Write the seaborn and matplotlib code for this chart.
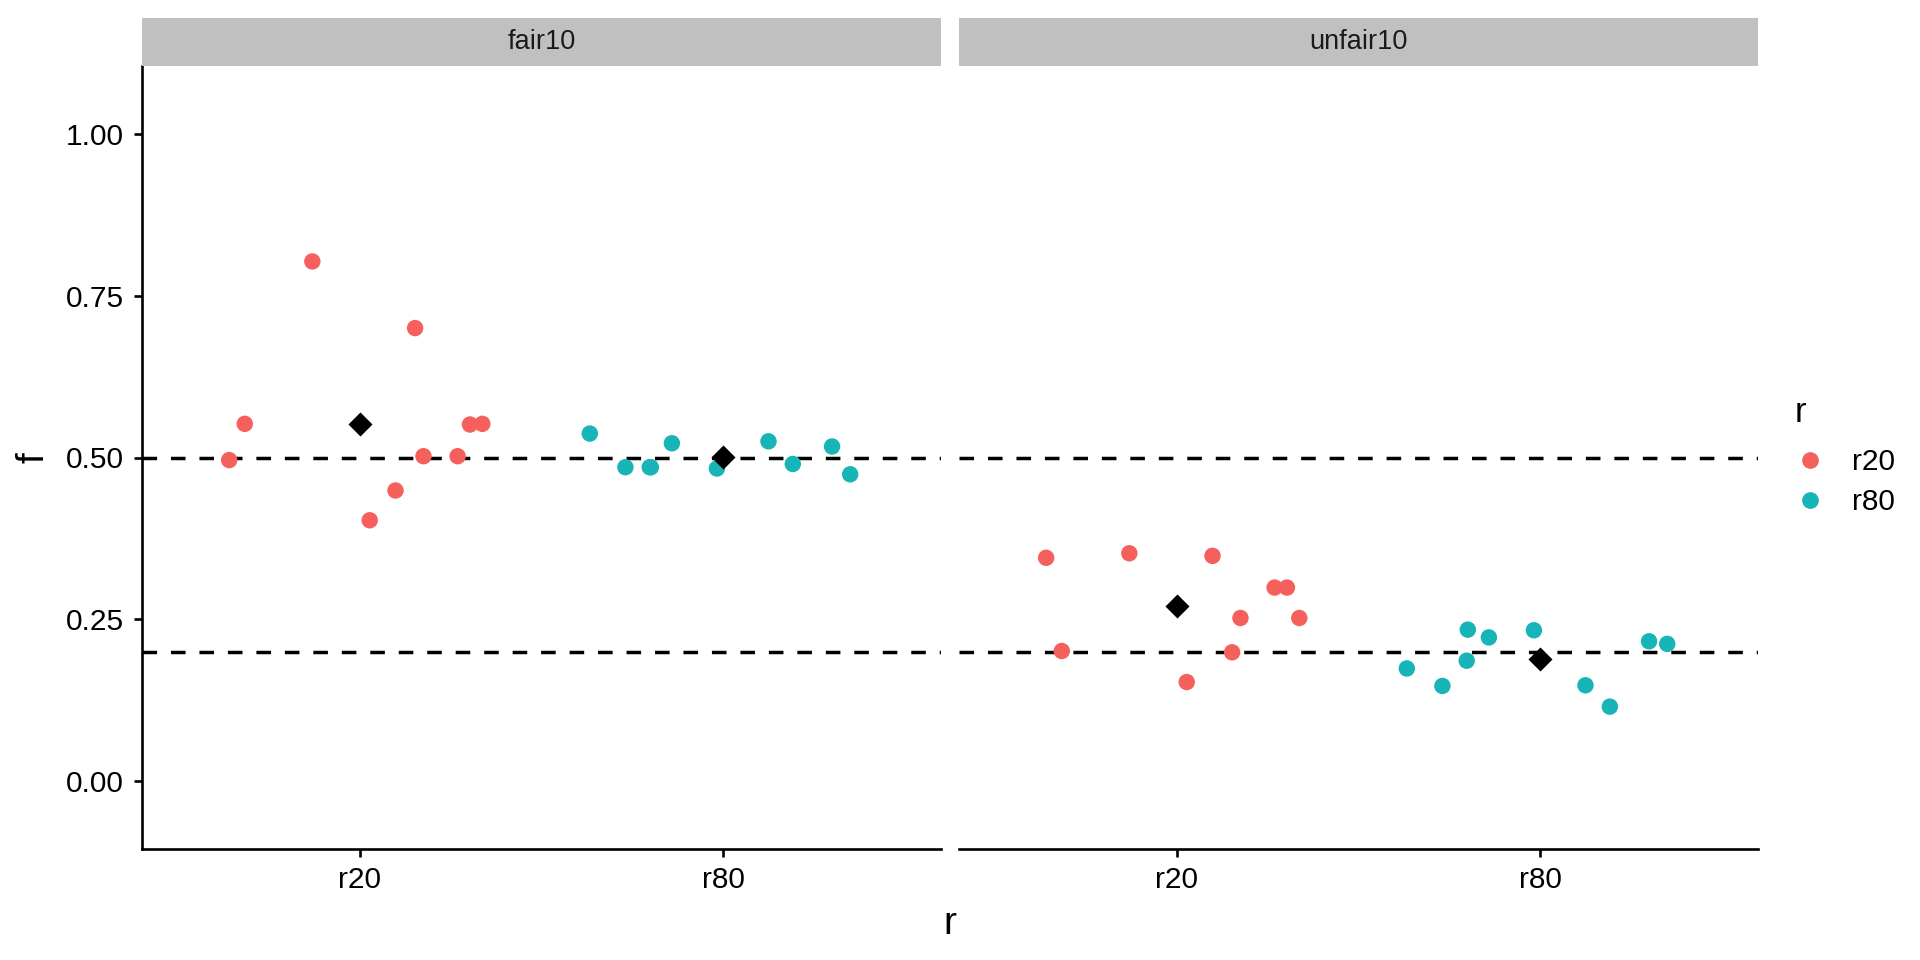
import numpy as np
import pandas as pd
import matplotlib
matplotlib.use("Agg")
import matplotlib.pyplot as plt
import seaborn as sns
from matplotlib.patches import Rectangle
from matplotlib.lines import Line2D

# data
conditions = ["fair10", "unfair10"]
groups = ["r20", "r80"]
colors = {"r20": "#F6605C", "r80": "#17B4B8"}

# horizontal jitter used for each point (same in both panels)
jitter_r20 = [-0.36, -0.317, -0.131, 0.027, 0.098, 0.152, 0.175, 0.269, 0.303, 0.337]
jitter_r80 = [-0.367, -0.269, -0.202, -0.199, -0.141, -0.017, 0.125, 0.192, 0.30, 0.35]

fair10_r20 = [0.496, 0.552, 0.803, 0.403, 0.449, 0.700, 0.502, 0.502, 0.551, 0.552]
fair10_r80 = [0.537, 0.485, 0.485, 0.485, 0.522, 0.483, 0.525, 0.490, 0.517, 0.474]
unfair10_r20 = [0.345, 0.201, 0.352, 0.153, 0.348, 0.199, 0.252, 0.299, 0.299, 0.252]
unfair10_r80 = [0.174, 0.147, 0.186, 0.234, 0.222, 0.233, 0.148, 0.115, 0.216, 0.212]

ref_lines = [0.5, 0.2]
y_ticks = [0.0, 0.25, 0.5, 0.75, 1.0]

values = {("fair10", "r20"): fair10_r20, ("fair10", "r80"): fair10_r80,
          ("unfair10", "r20"): unfair10_r20, ("unfair10", "r80"): unfair10_r80}
jitters = {"r20": jitter_r20, "r80": jitter_r80}

rows = []
for cond in conditions:
    for gi, g in enumerate(groups):
        for f, j in zip(values[(cond, g)], jitters[g]):
            rows.append({"condition": cond, "r": g, "f": f, "pos": gi, "x": gi + j})
df = pd.DataFrame(rows)
means = df.groupby(["condition", "r"], as_index=False).agg(f=("f", "mean"), pos=("pos", "first"))

sns.set_theme(style="white")
plt.rcParams["font.family"] = ["Liberation Sans", "DejaVu Sans"]
plt.rcParams["text.color"] = "black"
plt.rcParams["xtick.color"] = "black"
plt.rcParams["ytick.color"] = "black"

fig = plt.figure(figsize=(19.2, 9.6), dpi=100)

W, H = 1920, 960
panel_left = [142, 959]
panel_w = 799
top, bottom = 66, 849
strip_top = 18
spine_w = 1.9

for i, cond in enumerate(conditions):
    ax = fig.add_axes([panel_left[i] / W, 1 - bottom / H, panel_w / W, (bottom - top) / H])
    sub = df[df["condition"] == cond]
    for yl in ref_lines:
        ax.axhline(yl, color="black", lw=2.5, dashes=(4.2, 4.0), zorder=1)
    sns.scatterplot(data=sub, x="x", y="f", hue="r", palette=colors, s=140,
                    linewidth=0, ax=ax, legend=False, zorder=3)
    sns.scatterplot(data=means[means["condition"] == cond], x="pos", y="f",
                    marker="D", color="black", s=150, linewidth=0, ax=ax,
                    legend=False, zorder=4)
    ax.set_xlim(-0.6, 1.6)
    ax.set_ylim(-0.105, 1.105)
    ax.set_xticks([0, 1])
    ax.set_xticklabels(groups)
    ax.set_xlabel("")
    ax.set_ylabel("")
    for s in ["top", "right"]:
        ax.spines[s].set_visible(False)
    ax.spines["bottom"].set_linewidth(spine_w)
    ax.spines["bottom"].set_color("black")
    ax.tick_params(axis="x", length=6, width=spine_w, labelsize=21.5, pad=6,
                   bottom=True, labelcolor="black")
    ax.set_yticks(y_ticks)
    if i == 0:
        ax.set_yticklabels([f"{t:.2f}" for t in y_ticks])
        ax.spines["left"].set_linewidth(spine_w)
        ax.spines["left"].set_color("black")
        ax.tick_params(axis="y", length=6, width=spine_w, labelsize=21.5, pad=7,
                       left=True, labelcolor="black")
    else:
        ax.spines["left"].set_visible(False)
        ax.tick_params(axis="y", left=False, labelleft=False)
    # facet strip
    fig.patches.append(Rectangle((panel_left[i] / W, 1 - top / H), panel_w / W,
                                 (top - strip_top) / H, transform=fig.transFigure,
                                 facecolor="#C0C0C0", edgecolor="none"))
    fig.text((panel_left[i] + panel_w / 2) / W, 1 - (top + strip_top) / 2 / H, cond,
             ha="center", va="center", fontsize=19.5, color="#1a1a1a")

fig.text(950 / W, 1 - 934 / H, "r", ha="center", va="baseline", fontsize=28)
fig.text(34 / W, 1 - 458 / H, "f", ha="center", va="center", fontsize=28, rotation=90)

handles = [Line2D([], [], marker="o", ls="", color=colors[g], markersize=11) for g in groups]
leg = fig.legend(handles, groups, title="r", loc="upper left",
                 bbox_to_anchor=(1795 / W, 1 - 396 / H), frameon=False,
                 fontsize=21.5, title_fontsize=25, handletextpad=0.9, labelspacing=0.4,
                 borderaxespad=0, borderpad=0, handlelength=1.0)
leg._legend_box.align = "left"
leg._legend_box.sep = 14

fig.savefig("out.png", dpi=100)
